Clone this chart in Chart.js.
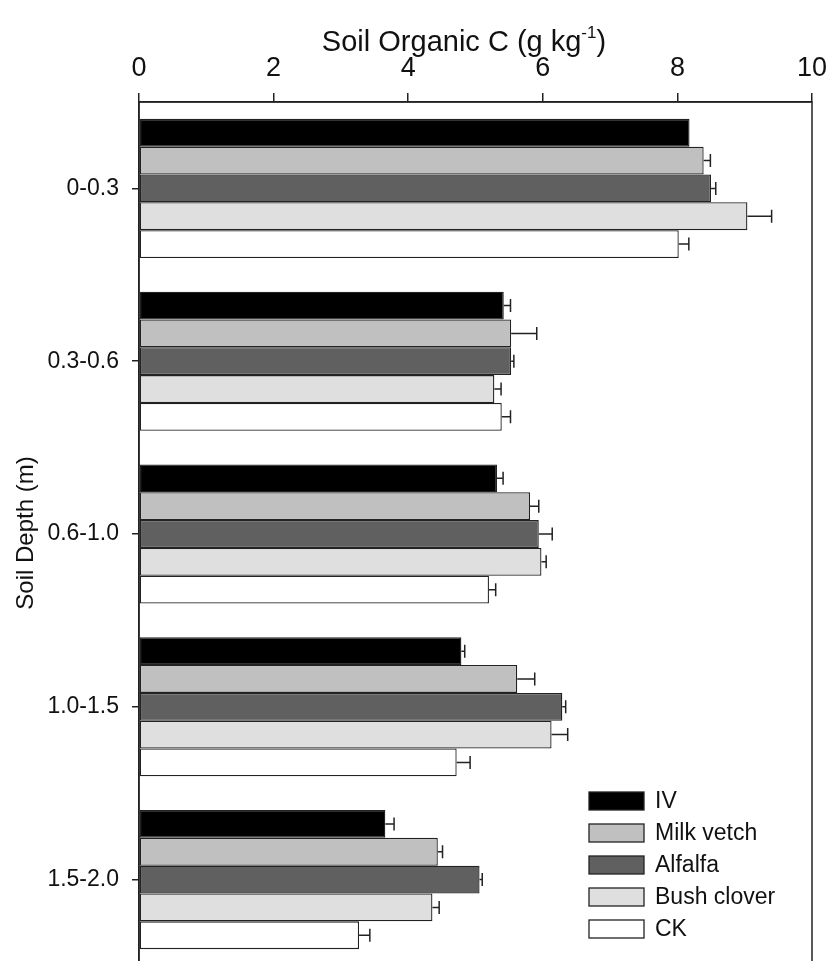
<!DOCTYPE html>
<html>
<head>
<meta charset="utf-8">
<script src="https://cdn.jsdelivr.net/npm/chart.js@4"></script>
<style>
  html, body { margin: 0; background: #fff; overflow: hidden; }
  canvas { display: block; }
</style>
</head>
<body>
<canvas id="myChart" width="827" height="970"></canvas>
<script>
// Soil depth classes (y axis)
const depths = ['0-0.3', '0.3-0.6', '0.6-1.0', '1.0-1.5', '1.5-2.0'];

// mean soil organic C (g/kg) and error bars
const iv = [8.18, 5.42, 5.32, 4.79, 3.66];
const ivErr = [0, 0.10, 0.09, 0.05, 0.13];
const milkVetch = [8.39, 5.53, 5.81, 5.62, 4.44];
const milkVetchErr = [0.10, 0.38, 0.13, 0.26, 0.07];
const alfalfa = [8.50, 5.53, 5.94, 6.29, 5.06];
const alfalfaErr = [0.07, 0.04, 0.20, 0.05, 0.04];
const bushClover = [9.04, 5.28, 5.98, 6.13, 4.36];
const bushCloverErr = [0.36, 0.10, 0.07, 0.24, 0.10];
const ck = [8.02, 5.39, 5.20, 4.72, 3.27];
const ckErr = [0.15, 0.13, 0.10, 0.20, 0.16];

const xTicks = [0, 2, 4, 6, 8, 10];

const FONT = '"Liberation Sans", Arial, sans-serif';

const mkSet = (label, data, err, color) => ({
    label: label,
    data: data,
    err: err,
    backgroundColor: color,
    borderColor: '#222',
    borderWidth: 1.3,
    borderSkipped: false,
    categoryPercentage: 0.805,
    barPercentage: 1
});

// error bars drawn to the right of each bar
const errorBars = {
    id: 'errorBars',
    afterDatasetsDraw(chart) {
        const ctx = chart.ctx;
        const xs = chart.scales.x;
        ctx.save();
        ctx.strokeStyle = '#222';
        ctx.lineWidth = 1.5;
        chart.data.datasets.forEach((ds, i) => {
            const meta = chart.getDatasetMeta(i);
            meta.data.forEach((bar, j) => {
                const e = ds.err[j];
                if (!e) return;
                const x0 = bar.x;
                const x1 = xs.getPixelForValue(ds.data[j] + e);
                ctx.beginPath();
                ctx.moveTo(x0, bar.y);
                ctx.lineTo(x1, bar.y);
                ctx.moveTo(x1, bar.y - 6.5);
                ctx.lineTo(x1, bar.y + 6.5);
                ctx.stroke();
            });
        });
        ctx.restore();
    }
};

// frame, titles and the legend box
const decor = {
    id: 'decor',
    afterDraw(chart) {
        const ctx = chart.ctx;
        const a = chart.chartArea;
        ctx.save();
        ctx.strokeStyle = '#222';
        ctx.lineWidth = 1.5;
        ctx.strokeRect(a.left, a.top, a.right - a.left, a.bottom - a.top);

        // x title with superscript
        ctx.fillStyle = '#111';
        ctx.textBaseline = 'alphabetic';
        ctx.font = '29px ' + FONT;
        const t1 = 'Soil Organic C (g kg';
        const sup = '-1';
        const t2 = ')';
        const w1 = ctx.measureText(t1).width;
        const w3 = ctx.measureText(t2).width;
        ctx.font = '17px ' + FONT;
        const w2 = ctx.measureText(sup).width;
        let x = 464 - (w1 + w2 + w3) / 2;
        const base = 51;
        ctx.font = '29px ' + FONT;
        ctx.textAlign = 'left';
        ctx.fillText(t1, x, base);
        ctx.font = '17px ' + FONT;
        ctx.fillText(sup, x + w1, base - 13);
        ctx.font = '29px ' + FONT;
        ctx.fillText(t2, x + w1 + w2, base);

        // y title
        ctx.save();
        ctx.font = '24px ' + FONT;
        ctx.translate(33, 533);
        ctx.rotate(-Math.PI / 2);
        ctx.textAlign = 'center';
        ctx.fillText('Soil Depth (m)', 0, 0);
        ctx.restore();

        // legend
        ctx.font = '23px ' + FONT;
        ctx.textBaseline = 'middle';
        chart.data.datasets.forEach((ds, i) => {
            const cy = 801 + i * 32;
            ctx.fillStyle = ds.backgroundColor;
            ctx.fillRect(589, cy - 9, 55, 18);
            ctx.lineWidth = 1.3;
            ctx.strokeRect(589, cy - 9, 55, 18);
            ctx.fillStyle = '#111';
            ctx.fillText(ds.label, 655, cy + 1);
        });
        ctx.restore();
    }
};

const ctx = document.getElementById('myChart');

new Chart(ctx, {
    type: 'bar',
    data: {
        labels: depths,
        datasets: [
            mkSet('IV', iv, ivErr, '#000000'),
            mkSet('Milk vetch', milkVetch, milkVetchErr, '#c0c0c0'),
            mkSet('Alfalfa', alfalfa, alfalfaErr, '#606060'),
            mkSet('Bush clover', bushClover, bushCloverErr, '#dfdfdf'),
            mkSet('CK', ck, ckErr, '#ffffff')
        ]
    },
    options: {
        indexAxis: 'y',
        responsive: false,
        animation: false,
        layout: { autoPadding: false, padding: { top: 0, left: 0, right: 15, bottom: 4 } },
        plugins: {
            legend: { display: false },
            tooltip: { enabled: false }
        },
        scales: {
            x: {
                type: 'linear',
                position: 'top',
                min: 0,
                max: 10,
                afterFit: (s) => {
                    s.height = 102;
                    s.paddingLeft = 0;
                    s.paddingRight = 0;
                },
                afterBuildTicks: (s) => { s.ticks = xTicks.map(v => ({ value: v })); },
                ticks: {
                    color: '#111',
                    padding: 8,
                    font: { family: FONT, size: 27 }
                },
                grid: {
                    drawOnChartArea: false,
                    tickLength: 9,
                    color: '#222',
                    lineWidth: 1.5
                },
                border: { color: '#222', width: 1.5 }
            },
            y: {
                type: 'category',
                afterFit: (s) => {
                    s.width = 139;
                    s.paddingTop = 0;
                    s.paddingBottom = 0;
                },
                ticks: {
                    color: '#111',
                    padding: 13,
                    font: { family: FONT, size: 23 }
                },
                grid: {
                    offset: false,
                    drawOnChartArea: false,
                    tickLength: 7,
                    color: '#222',
                    lineWidth: 1.5
                },
                border: { color: '#222', width: 1.5 }
            }
        }
    },
    plugins: [errorBars, decor]
});
</script>
</body>
</html>
